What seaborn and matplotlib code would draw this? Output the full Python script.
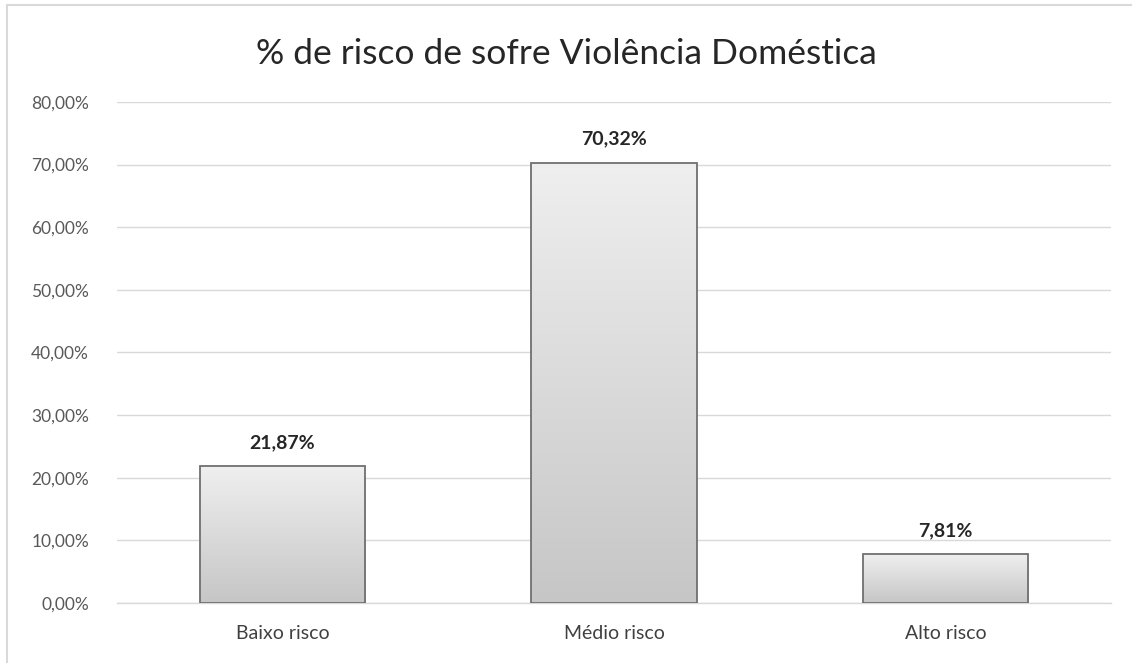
import numpy as np
import matplotlib
matplotlib.use("Agg")
import matplotlib.pyplot as plt
import seaborn as sns
import pandas as pd
from matplotlib.lines import Line2D

categorias = ["Baixo risco", "Médio risco", "Alto risco"]
percentuais = [21.87, 70.32, 7.81]
rotulos = ["21,87%", "70,32%", "7,81%"]
ticks_y = [0, 10, 20, 30, 40, 50, 60, 70, 80]

sns.set_theme(style="white")
plt.rcParams["font.family"] = ["Lato", "DejaVu Sans"]

df = pd.DataFrame({"categoria": categorias, "valor": percentuais})

fig = plt.figure(figsize=(11.32, 6.63), dpi=100)
ax = fig.add_axes([0.1031, 0.0905, 0.8786, 0.7557])

sns.barplot(data=df, x="categoria", y="valor", ax=ax, width=0.5,
            color="#d8d8d8", edgecolor="#707070", linewidth=1.3, zorder=3)

ax.set_ylim(0, 80)
ax.set_xlim(-0.5, 2.5)

# vertical gradient fill inside each bar
grad = np.linspace(0, 1, 256).reshape(-1, 1)
cmap = matplotlib.colors.LinearSegmentedColormap.from_list("g", ["#c6c6c6", "#efefef"])
for p in ax.patches:
    x0, y0 = p.get_x(), p.get_y()
    w, h = p.get_width(), p.get_height()
    im = ax.imshow(grad, extent=[x0, x0 + w, y0, y0 + h], origin="lower",
                   aspect="auto", cmap=cmap, zorder=3.5)
    im.set_clip_path(p)
    p.set_facecolor("none")
    p.set_zorder(4)

ax.set_yticks(ticks_y)
ax.set_yticklabels([f"{t:.2f}%".replace(".", ",") for t in ticks_y])
ax.yaxis.grid(True, color="#d9d9d9", linewidth=1.0, zorder=0)
ax.set_axisbelow(True)
for s in ["left", "right", "top"]:
    ax.spines[s].set_visible(False)
ax.spines["bottom"].set_color("#d9d9d9")
ax.spines["bottom"].set_linewidth(1.0)
ax.tick_params(axis="y", length=0, pad=20, labelsize=12.5, labelcolor="#595959")
ax.tick_params(axis="x", length=0, pad=16, labelsize=14, labelcolor="#404040")
ax.set_xlabel("")
ax.set_ylabel("")

for i, (v, r) in enumerate(zip(percentuais, rotulos)):
    ax.annotate(r, (i, v), xytext=(0, 11), textcoords="offset points",
                ha="center", va="bottom", fontsize=14, fontweight="bold",
                color="#262626")

fig.text(0.5, 0.919, "% de risco de sofre Violência Doméstica", ha="center",
         va="center", fontsize=25.5, color="#262626")

# chart frame
fig.add_artist(Line2D([7 / 1132, 7 / 1132], [0, 1 - 5 / 663], transform=fig.transFigure,
                      color="#d9d9d9", linewidth=1.5))
fig.add_artist(Line2D([7 / 1132, 1], [1 - 5 / 663, 1 - 5 / 663], transform=fig.transFigure,
                      color="#d9d9d9", linewidth=1.5))

fig.savefig("out.png", dpi=100)
